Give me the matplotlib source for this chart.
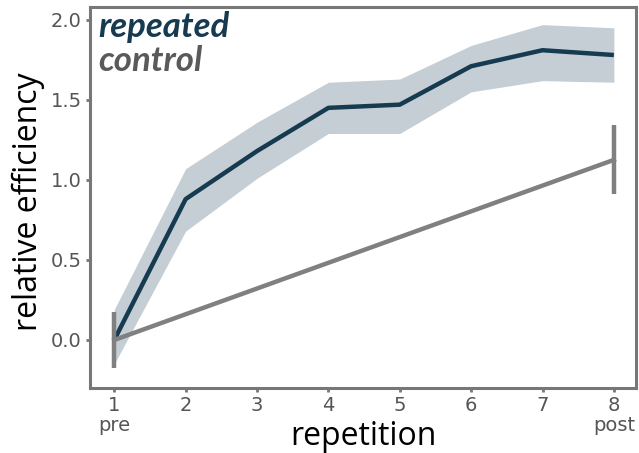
import numpy as np
import matplotlib.pyplot as plt

rep = [1, 2, 3, 4, 5, 6, 7, 8]
rep_mean = [0.0, 0.88, 1.18, 1.45, 1.47, 1.71, 1.81, 1.78]
rep_lo = [-0.15, 0.68, 1.01, 1.29, 1.29, 1.55, 1.62, 1.61]
rep_hi = [0.19, 1.07, 1.36, 1.61, 1.63, 1.84, 1.97, 1.95]

ctrl_x = [1, 8]
ctrl_mean = [0.0, 1.125]
ctrl_err = [0.175, 0.215]

xtick_labels = ['1\npre', '2', '3', '4', '5', '6', '7', '8\npost']
yticks = [0.0, 0.5, 1.0, 1.5, 2.0]

dark = '#163a4f'
band = '#c5ced4'
grey = '#808080'

plt.rcParams['font.family'] = ['Lato', 'DejaVu Sans']

fig = plt.figure(figsize=(6.39, 4.53), dpi=100)
ax = fig.add_axes([90/639, 1-388/453, 546/639, 381/453])

ax.fill_between(rep, rep_lo, rep_hi, color=band, lw=0)
ax.plot(rep, rep_mean, color=dark, lw=3.2, solid_capstyle='butt')
ax.plot(ctrl_x, ctrl_mean, color=grey, lw=3.2)
ax.errorbar(ctrl_x, ctrl_mean, yerr=ctrl_err, fmt='none', ecolor=grey, elinewidth=3.2, capsize=0)

ax.set_xlim(0.66, 8.31)
ax.set_ylim(-0.30, 2.08)
ax.set_xticks(rep)
ax.set_xticklabels(xtick_labels, fontsize=14, family='DejaVu Sans', linespacing=1.05)
ax.set_yticks(yticks)
ax.set_yticklabels([f'{v:.1f}' for v in yticks], fontsize=14, family='DejaVu Sans')
ax.tick_params(colors='#777777', width=2, length=3, pad=3, labelcolor='#555555')
for s in ax.spines.values():
    s.set_color('#777777')
    s.set_linewidth(2.2)

ax.set_xlabel('repetition', fontsize=23, family='Open Sans')
ax.xaxis.set_label_coords(0.5, -0.085)
ax.set_ylabel('relative efficiency', fontsize=23, family='Open Sans')
ax.yaxis.set_label_coords(-0.082, 0.49)

ax.text(0.015, 0.99, 'repeated', transform=ax.transAxes, ha='left', va='top',
        fontsize=25, fontweight='bold', fontstyle='italic', color=dark)
ax.text(0.015, 0.90, 'control', transform=ax.transAxes, ha='left', va='top',
        fontsize=25, fontweight='bold', fontstyle='italic', color='#5a5a5a')

fig.savefig('out.png', dpi=100)
